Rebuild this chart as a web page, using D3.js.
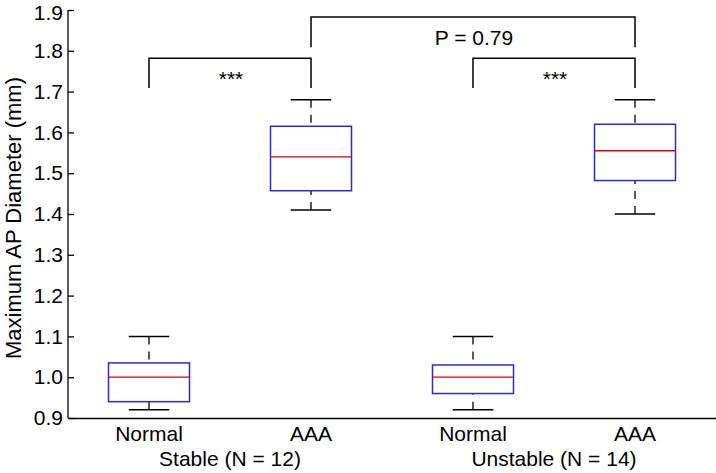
<!DOCTYPE html>
<html><head><meta charset="utf-8">
<script src="https://cdn.jsdelivr.net/npm/d3@7"></script>
<style>body{margin:0;background:#fff}svg{display:block}text{font-family:"Liberation Sans",Arial,sans-serif}</style>
</head><body><svg id="c" width="716" height="473"></svg>
<script>
const categories = ["Normal", "AAA", "Normal", "AAA"];
const groups = ["Stable (N = 12)", "Unstable (N = 14)"];
const whiskerLow = [0.92, 1.41, 0.92, 1.40];
const q1 = [0.94, 1.457, 0.96, 1.482];
const median = [1.0, 1.54, 1.0, 1.555];
const q3 = [1.035, 1.615, 1.03, 1.62];
const whiskerHigh = [1.1, 1.68, 1.1, 1.68];
const yTicks = [0.9, 1.0, 1.1, 1.2, 1.3, 1.4, 1.5, 1.6, 1.7, 1.8, 1.9];
const yLabel = "Maximum AP Diameter (mm)";
// significance brackets
const bracketFrom = [0, 2, 1];
const bracketTo = [1, 3, 3];
const bracketTop = [1.782, 1.782, 1.883];
const bracketLeg = [1.709, 1.709, 1.809];
const bracketLabel = ["***", "***", "P = 0.79"];
const bracketLabelY = [1.714, 1.714, 1.814];

const svg = d3.select("#c");
const L = 68, R = 716, T = 10, B = 418;
const FS = 21;
const x = d3.scaleBand().domain(d3.range(categories.length)).range([L, R]).padding(0);
const y = d3.scaleLinear().domain([0.9, 1.9]).range([B, T]);
const bw = x.bandwidth();
const cx = i => x(i) + bw / 2;

// axes
const yAxis = d3.axisLeft(y).tickValues(yTicks).tickFormat(d3.format(".1f")).tickSizeInner(-6).tickSizeOuter(0).tickPadding(5);
const gy = svg.append("g").attr("transform", `translate(${L},0)`).call(yAxis);
gy.selectAll("text").attr("font-size", FS).attr("fill", "#000");
gy.selectAll(".tick").filter(d => d === 1.9).select("text").attr("dy", "0.45em");
gy.selectAll("line,path").attr("stroke", "#000").attr("stroke-width", 1.3);
gy.select(".domain").attr("d", `M0,${T}V${B}`);

const xAxis = d3.axisBottom(x).tickFormat(i => categories[i]).tickSize(0).tickPadding(8);
const gx = svg.append("g").attr("transform", `translate(0,${B})`).call(xAxis);
gx.selectAll("text").attr("font-size", FS).attr("fill", "#000");
gx.select(".domain").attr("stroke", "#000").attr("stroke-width", 1.3);

// group labels
groups.forEach((g, k) => {
  svg.append("text").attr("x", (cx(2 * k) + cx(2 * k + 1)) / 2).attr("y", 466)
    .attr("text-anchor", "middle").attr("font-size", FS).text(g);
});

// y label
svg.append("text").attr("transform", `translate(21,218) rotate(-90)`)
  .attr("text-anchor", "middle").attr("font-size", 22).text(yLabel);

// boxes
const g = svg.append("g");
categories.forEach((c, i) => {
  const xc = cx(i), hw = bw / 4, cw = bw / 8;
  g.append("line").attr("x1", xc).attr("x2", xc).attr("y1", y(whiskerHigh[i])).attr("y2", y(q3[i]))
    .attr("stroke", "#000").attr("stroke-width", 1.3).attr("stroke-dasharray", "8,7");
  g.append("line").attr("x1", xc).attr("x2", xc).attr("y1", y(whiskerLow[i])).attr("y2", y(q1[i]))
    .attr("stroke", "#000").attr("stroke-width", 1.3).attr("stroke-dasharray", "8,7");
  [whiskerHigh[i], whiskerLow[i]].forEach(v => {
    g.append("line").attr("x1", xc - cw).attr("x2", xc + cw).attr("y1", y(v)).attr("y2", y(v))
      .attr("stroke", "#000").attr("stroke-width", 1.5);
  });
  g.append("rect").attr("x", xc - hw).attr("width", 2 * hw).attr("y", y(q3[i])).attr("height", y(q1[i]) - y(q3[i]))
    .attr("fill", "none").attr("stroke", "#2a2ad8").attr("stroke-width", 1.5);
  g.append("line").attr("x1", xc - hw).attr("x2", xc + hw).attr("y1", y(median[i])).attr("y2", y(median[i]))
    .attr("stroke", "#e00000").attr("stroke-width", 1.3);
});

// brackets
bracketFrom.forEach((f, k) => {
  const x1 = cx(f), x2 = cx(bracketTo[k]);
  svg.append("path").attr("d", `M${x1},${y(bracketLeg[k])}V${y(bracketTop[k])}H${x2}V${y(bracketLeg[k])}`)
    .attr("fill", "none").attr("stroke", "#000").attr("stroke-width", 1.5);
  svg.append("text").attr("x", (x1 + x2) / 2 + 1).attr("y", y(bracketLabelY[k]))
    .attr("text-anchor", "middle").attr("font-size", FS).text(bracketLabel[k]);
});
</script></body></html>
